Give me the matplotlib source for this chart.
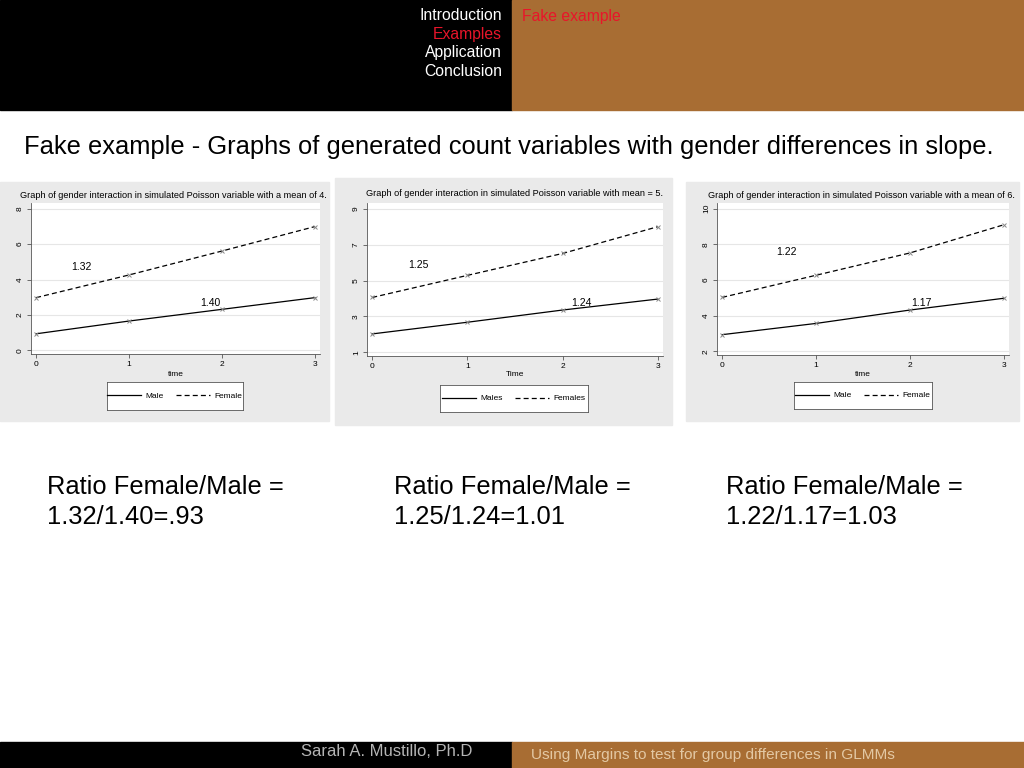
import matplotlib
matplotlib.use('Agg')
import matplotlib.pyplot as plt
from matplotlib.patches import Rectangle
from matplotlib.lines import Line2D

plt.rcParams['font.family'] = ['Liberation Sans', 'DejaVu Sans']

# data
time = [0, 1, 2, 3]
male_4 = [0.94, 1.66, 2.32, 2.98]
female_4 = [2.98, 4.26, 5.61, 6.99]
male_5 = [2.03, 2.68, 3.36, 3.97]
female_5 = [4.06, 5.29, 6.51, 8.0]
male_6 = [2.94, 3.57, 4.32, 4.98]
female_6 = [5.03, 6.27, 7.52, 9.1]

titles = ['Graph of gender interaction in simulated Poisson variable with a mean of 4.',
          'Graph of gender interaction in simulated Poisson variable with mean = 5.',
          'Graph of gender interaction in simulated Poisson variable with a mean of 6.']
xlabels = ['time', 'Time', 'time']
legend_labels = [('Male', 'Female'), ('Males', 'Females'), ('Male', 'Female')]
yticks = [[0, 2, 4, 6, 8], [1, 3, 5, 7, 9], [2, 4, 6, 8, 10]]
slope_labels = [('1.32', 0.49, 4.69, '1.40', 1.88, 2.69),
                ('1.25', 0.48, 5.89, '1.24', 2.2, 3.73),
                ('1.22', 0.69, 7.6, '1.17', 2.12, 4.72)]
ratio_text = ['Ratio Female/Male =\n1.32/1.40=.93',
              'Ratio Female/Male =\n1.25/1.24=1.01',
              'Ratio Female/Male =\n1.22/1.17=1.03']

nav_items = ['Introduction', 'Examples', 'Application', 'Conclusion']

W, H = 1024, 768
fig = plt.figure(figsize=(10.24, 7.68), dpi=100)


def fx(x):
    return x / W


def fy(y):
    return 1 - y / H


def rect_px(x0, y0, x1, y1):
    return [fx(x0), fy(y1), fx(x1 - x0), (y1 - y0) / H]


def add_box(x0, y0, x1, y1, color):
    fig.patches.append(Rectangle((fx(x0), fy(y1)), (x1 - x0) / W, (y1 - y0) / H,
                                 transform=fig.transFigure, color=color, zorder=-5))


brown = '#A86D33'
# header and footer bands
add_box(0, 0, 512, 110, 'black')
add_box(512, 0, 1024, 110, brown)
add_box(0, 742, 512, 768, 'black')
add_box(512, 742, 1024, 768, brown)

nav_y = [15, 34, 52, 71]
for item, yy in zip(nav_items, nav_y):
    fig.text(fx(502), fy(yy), item, ha='right', va='center', fontsize=11.3,
             color='#E8152A' if item == 'Examples' else 'white')
fig.text(fx(522), fy(16), 'Fake example', ha='left', va='center', fontsize=11.3, color='#E8152A')

fig.text(fx(472), fy(752), 'Sarah A. Mustillo, Ph.D', ha='right', va='center', fontsize=12, color='#B5B5B5')
fig.text(fx(531), fy(755), 'Using Margins to test for group differences in GLMMs', ha='left', va='center',
         fontsize=11.1, color='#E3C8A4')

fig.text(fx(24), fy(147), 'Fake example - Graphs of generated count variables with gender differences in slope.',
         ha='left', va='center', fontsize=18.4, color='black')

# panel geometry (pixels)
bg_boxes = [(0, 182, 329, 421), (335, 178, 672, 425), (686, 182, 1019, 421)]
plot_boxes = [(31, 203, 320, 354), (367, 203, 663, 356), (717, 203, 1009, 355)]
title_xy = [(173.5, 196), (514, 194), (861.5, 196)]
legend_boxes = [(107, 382, 243, 410), (440, 385, 588, 412), (794, 382, 932, 409)]
series = [(male_4, female_4), (male_5, female_5), (male_6, female_6)]
ratio_x = [47, 394, 726]
dash = (0, (4, 2.5))

for i in range(3):
    add_box(*bg_boxes[i], '#EAEAEA')
    ax = fig.add_axes(rect_px(*plot_boxes[i]))
    ax.set_facecolor('white')
    m, f = series[i]
    lm, = ax.plot(time, m, color='black', lw=0.9, marker='x', ms=2.5, mec='#888888', mew=0.7)
    lf, = ax.plot(time, f, color='black', lw=0.9, ls=dash, marker='x', ms=2.5, mec='#888888', mew=0.7)
    lo, hi = yticks[i][0], yticks[i][-1]
    rng = hi - lo
    ax.set_ylim(lo - 0.025 * rng, hi + 0.04 * rng)
    ax.set_xlim(-0.055, 3.055)
    ax.set_yticks(yticks[i])
    ax.set_xticks(time)
    ax.grid(axis='y', color='#E6E6E6', lw=0.8)
    ax.set_axisbelow(True)
    for s in ['top', 'right']:
        ax.spines[s].set_visible(False)
    for s in ['left', 'bottom']:
        ax.spines[s].set_color('#555555')
        ax.spines[s].set_linewidth(0.6)
    ax.tick_params(labelsize=6, length=3, width=0.6, color='#555555', pad=2)
    for lab in ax.get_yticklabels():
        lab.set_rotation(90)
        lab.set_va('center')
    t1, x1, y1, t2, x2, y2 = slope_labels[i]
    ax.text(x1, y1, t1, fontsize=7.5, ha='center', va='center')
    ax.text(x2, y2, t2, fontsize=7.5, ha='center', va='center')

    px0, py0, px1, py1 = plot_boxes[i]
    tx, ty = title_xy[i]
    fig.text(fx(tx), fy(ty), titles[i], ha='center', va='center', fontsize=6.6)
    fig.text(fx((px0 + px1) / 2), fy(375), xlabels[i], ha='center', va='center', fontsize=6)

    lax = fig.add_axes(rect_px(*legend_boxes[i]))
    lax.set_xticks([])
    lax.set_yticks([])
    lax.set_facecolor('white')
    for s in lax.spines.values():
        s.set_color('#555555')
        s.set_linewidth(0.6)
    handles = [Line2D([], [], color='black', lw=0.9), Line2D([], [], color='black', lw=0.9, ls=dash)]
    lax.legend(handles, legend_labels[i], loc='center', ncol=2, frameon=False, fontsize=6,
               handlelength=4, columnspacing=1.5, handletextpad=0.6)

    fig.text(fx(ratio_x[i]), fy(502), ratio_text[i], ha='left', va='center', fontsize=18.4,
             linespacing=1.32)

fig.savefig('out.png', dpi=100)
